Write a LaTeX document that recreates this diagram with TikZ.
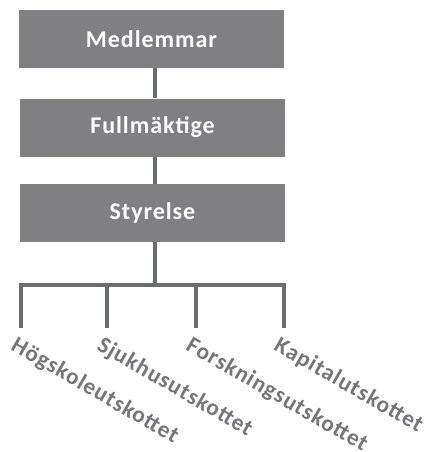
\documentclass[tikz,border=0pt]{standalone}
\usepackage{fontspec}
\setmainfont{Carlito}[LetterSpace=4]
\definecolor{boxgray}{RGB}{128,128,131}
\definecolor{linegray}{RGB}{108,109,113}
\definecolor{labelgray}{RGB}{118,118,122}
\begin{document}
\begin{tikzpicture}[x=1pt,y=-1pt,
  orgbox/.style={fill=boxgray,draw=none,minimum width=265pt,minimum height=58pt,inner sep=0pt,
    text=white,font=\fontsize{24}{26}\selectfont\bfseries},
  conn/.style={draw=linegray,line width=4pt,line cap=butt,line join=miter},
  lab/.style={anchor=north west,rotate=-30,inner sep=0pt,text=labelgray,
    font=\fontsize{23.2}{24}\selectfont\bfseries}]
\useasboundingbox (0,0) rectangle (439,452);
\node[orgbox] (m) at (151.5,39) {Medlemmar\hspace{6pt}};
\node[orgbox] (f) at (152.5,127.5) {Fullmäktige\hspace{6pt}};
\node[orgbox] (s) at (152.5,213) {Styrelse\hspace{6pt}};
\coordinate (spine) at (154.5,0);
\coordinate (bar) at (0,284.5);
\coordinate (t1) at (21,328);
\coordinate (t2) at (107,328);
\coordinate (t3) at (196,328);
\coordinate (t4) at (284,328);
\draw[conn] (m.south -| spine) -- (f.north -| spine);
\draw[conn] (f.south -| spine) -- (s.north -| spine);
\draw[conn] (s.south -| spine) -- (bar -| spine);
\draw[conn] (t1) -- (t1 |- bar) -- (t4 |- bar) -- (t4);
\draw[conn] (t2) -- (t2 |- bar);
\draw[conn] (t3) -- (t3 |- bar);
\node[lab] (l1) at ([shift={(-3,7)}]t1) {Högskoleutskottet};
\node[lab] (l2) at ([shift={(-3,7)}]t2) {Sjukhusutskottet};
\node[lab] (l3) at ([shift={(-3,7)}]t3) {Forskningsutskottet};
\node[lab] (l4) at ([shift={(-3,7)}]t4) {Kapitalutskottet};
\end{tikzpicture}
\end{document}
